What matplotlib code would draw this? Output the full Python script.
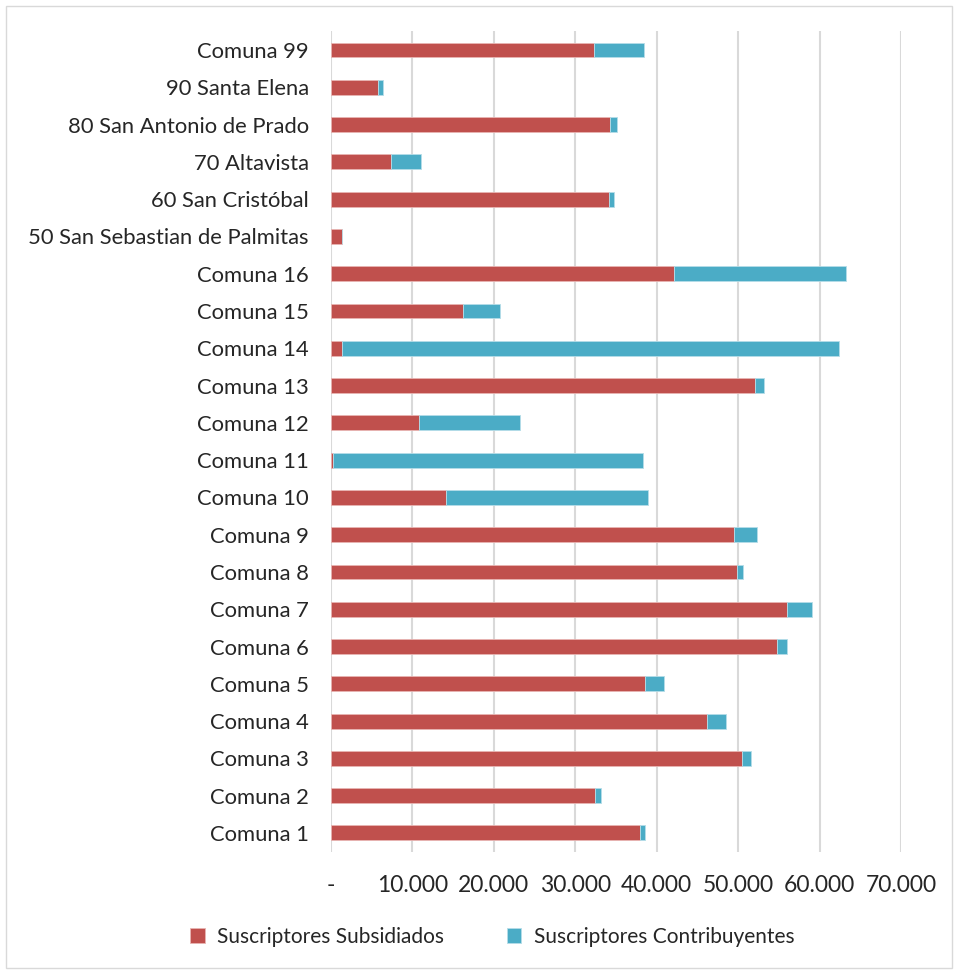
"""Suscriptores por comuna: barras horizontales apiladas."""
import matplotlib; matplotlib.use("Agg")
import matplotlib.pyplot as plt
from matplotlib.patches import Rectangle
from matplotlib.ticker import FuncFormatter

plt.rcParams["font.family"] = ["Lato", "DejaVu Sans"]

RED, BLUE, GRID, INK = "#C0504D", "#4BACC6", "#D9D9D9", "#262626"

comunas = ["Comuna 1", "Comuna 2", "Comuna 3", "Comuna 4", "Comuna 5", "Comuna 6",
           "Comuna 7", "Comuna 8", "Comuna 9", "Comuna 10", "Comuna 11", "Comuna 12",
           "Comuna 13", "Comuna 14", "Comuna 15", "Comuna 16",
           "50 San Sebastian de Palmitas", "60 San Cristóbal", "70 Altavista",
           "80 San Antonio de Prado", "90 Santa Elena", "Comuna 99"]
subsidiados = [37960, 32420, 50540, 46160, 38570, 54810, 56050, 49900, 49510, 14110,
               310, 10760, 52100, 1320, 16210, 42130, 1320, 34150, 7330, 34270, 5770, 32300]
contribuyentes = [610, 740, 1070, 2380, 2340, 1190, 3080, 750, 2810, 24770,
                  37960, 12490, 1100, 61060, 4580, 21130, 0, 610, 3730, 860, 660, 6150]

fig = plt.figure(figsize=(9.56, 9.72), dpi=100)
fig.patch.set_facecolor("white")
fig.add_artist(Rectangle((0.006, 0.004), 0.99, 0.99, transform=fig.transFigure,
                         fill=False, edgecolor="#D9D9D9", lw=1))
ax = fig.add_axes([0.3462, 0.1239, 0.5962, 0.8438])

y = range(len(comunas))
ax.barh(y, subsidiados, height=0.4, color=RED, label="Suscriptores Subsidiados",
        edgecolor="#E8B5B3", lw=0.6, zorder=3)
ax.barh(y, contribuyentes, left=subsidiados, height=0.4, color=BLUE,
        label="Suscriptores Contribuyentes", edgecolor="#B5DDE8", lw=0.6, zorder=3)

ax.set_ylim(-0.5, len(comunas) - 0.5)
ax.set_xlim(0, 70000)
ax.set_xticks(range(0, 70001, 10000))
ax.xaxis.set_major_formatter(FuncFormatter(
    lambda v, p: "-" if v == 0 else f"{int(v):,}".replace(",", ".")))
ax.set_yticks(list(y))
ax.set_yticklabels(comunas)
ax.grid(axis="x", color=GRID, lw=1.5, zorder=0)
ax.tick_params(axis="x", length=0, pad=17, labelsize=16.5, labelcolor=INK)
ax.tick_params(axis="y", length=0, pad=16, labelsize=15.8, labelcolor=INK)
for s in ax.spines.values():
    s.set_visible(False)

leg = fig.legend(loc="center", bbox_to_anchor=(0.515, 0.036), ncol=2, frameon=False,
                 fontsize=15, handlelength=0.7, handleheight=0.7, columnspacing=3.0,
                 handletextpad=0.6, labelcolor=INK)

plt.savefig("out.png", dpi=100, facecolor="white")
